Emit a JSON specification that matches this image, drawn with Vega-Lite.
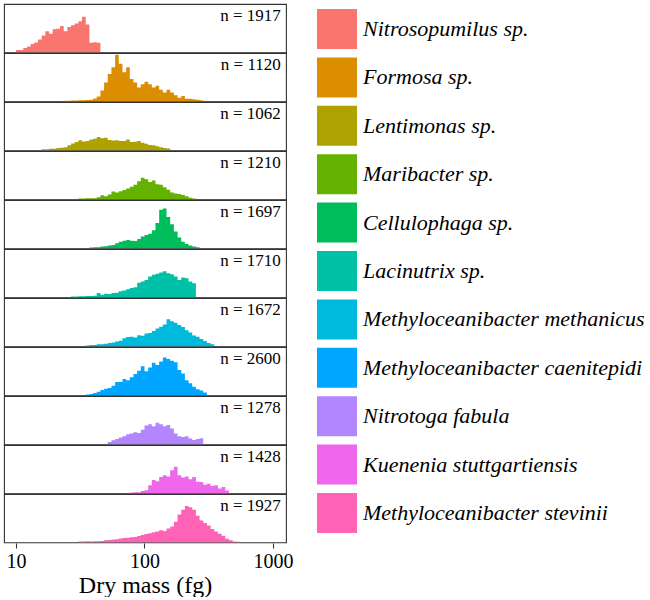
{
  "$schema": "https://vega.github.io/schema/vega-lite/v6.json",
  "padding": {"left": 3, "top": 3, "right": 0, "bottom": 0},
  "background": "white",
  "datasets": {
    "bins": [
      {"k":0,"lo":10},{"k":1,"lo":10.68},{"k":2,"lo":11.41},{"k":3,"lo":12.18},{"k":4,"lo":13.01},{"k":5,"lo":13.89},{"k":6,"lo":14.84},{"k":7,"lo":15.85},{"k":8,"lo":16.93},{"k":9,"lo":18.08},
      {"k":10,"lo":19.31},{"k":11,"lo":20.62},{"k":12,"lo":22.02},{"k":13,"lo":23.52},{"k":14,"lo":25.12},{"k":15,"lo":26.83},{"k":16,"lo":28.65},{"k":17,"lo":30.6},{"k":18,"lo":32.68},{"k":19,"lo":34.9},
      {"k":20,"lo":37.28},{"k":21,"lo":39.81},{"k":22,"lo":42.52},{"k":23,"lo":45.41},{"k":24,"lo":48.5},{"k":25,"lo":51.79},{"k":26,"lo":55.32},{"k":27,"lo":59.08},{"k":28,"lo":63.1},{"k":29,"lo":67.39},
      {"k":30,"lo":71.97},{"k":31,"lo":76.86},{"k":32,"lo":82.09},{"k":33,"lo":87.67},{"k":34,"lo":93.63},{"k":35,"lo":100},{"k":36,"lo":106.8},{"k":37,"lo":114.1},{"k":38,"lo":121.8},{"k":39,"lo":130.1},
      {"k":40,"lo":139},{"k":41,"lo":148.4},{"k":42,"lo":158.5},{"k":43,"lo":169.3},{"k":44,"lo":180.8},{"k":45,"lo":193.1},{"k":46,"lo":206.2},{"k":47,"lo":220.2},{"k":48,"lo":235.2},{"k":49,"lo":251.2},
      {"k":50,"lo":268.3},{"k":51,"lo":286.5},{"k":52,"lo":306},{"k":53,"lo":326.8},{"k":54,"lo":349},{"k":55,"lo":372.8},{"k":56,"lo":398.1},{"k":57,"lo":425.2},{"k":58,"lo":454.1},{"k":59,"lo":485},
      {"k":60,"lo":517.9},{"k":61,"lo":553.2},{"k":62,"lo":590.8},{"k":63,"lo":631},{"k":64,"lo":673.9},{"k":65,"lo":719.7},{"k":66,"lo":768.6},{"k":67,"lo":820.9},{"k":68,"lo":876.7},{"k":69,"lo":936.3},{"k":70,"lo":1000}
    ]
  },
  "data": {"values": [
    {"sp": "Nitrosopumilus sp.", "label": "n = 1917",
     "k": [0,1,2,3,4,5,6,7,8,9,10,11,12,13,14,15,16,17,18,19,20,21,22,23],
     "c": [10,10,18,24,34,41,53,70,87,77,95,98,109,87,105,112,119,129,147,115,40,42,40,0]},
    {"sp": "Formosa sp.", "label": "n = 1120",
     "k": [13,14,15,16,17,18,19,20,21,22,23,24,25,26,27,28,29,30,31,32,33,34,35,36,37,38,39,40,41,42,43,44,45,46,47,48,49,50,51],
     "c": [2,2,3,3,4,4,5,6,12,20,45,78,113,141,193,155,120,141,92,78,57,71,81,71,57,64,48,36,48,36,25,15,22,11,11,8,6,4,0]},
    {"sp": "Lentimonas sp.", "label": "n = 1062",
     "k": [7,8,9,10,11,12,13,14,15,16,17,18,19,20,21,22,23,24,25,26,27,28,29,30,31,32,33,34,35,36,37,38,39,40,41,42],
     "c": [4,4,6,6,10,11,13,21,28,34,42,36,38,45,48,55,50,52,43,41,42,38,39,45,34,35,39,31,27,22,21,17,13,10,7,0]},
    {"sp": "Maribacter sp.", "label": "n = 1210",
     "k": [17,18,19,20,21,22,23,24,25,26,27,28,29,30,31,32,33,34,35,36,37,38,39,40,41,42,43,44,45,46,47,48,49],
     "c": [3,3,4,4,4,8,17,13,20,32,28,33,38,45,52,60,75,89,83,72,78,62,60,50,40,28,24,22,18,13,6,3,0]},
    {"sp": "Cellulophaga sp.", "label": "n = 1697",
     "k": [20,21,22,23,24,25,26,27,28,29,30,31,32,33,34,35,36,37,38,39,40,41,42,43,44,45,46,47,48,49,50],
     "c": [3,4,4,7,8,12,14,21,27,31,34,31,30,38,49,55,60,75,105,160,165,130,100,70,45,27,18,12,7,4,0]},
    {"sp": "Lacinutrix sp.", "label": "n = 1710",
     "k": [15,16,17,18,19,20,21,22,23,24,25,26,27,28,29,30,31,32,33,34,35,36,37,38,39,40,41,42,43,44,45,46,47,48,49],
     "c": [3,3,4,4,5,5,6,18,11,15,14,18,19,25,28,33,39,42,60,65,72,86,93,97,103,108,100,95,86,72,82,79,65,58,0]},
    {"sp": "Methyloceanibacter methanicus", "label": "n = 1672",
     "k": [19,20,21,22,23,24,25,26,27,28,29,30,31,32,33,34,35,36,37,38,39,40,41,42,43,44,45,46,47,48,49,50,51,52,53,54],
     "c": [3,5,5,8,9,11,14,16,20,23,33,38,40,36,46,44,53,55,63,74,81,90,112,104,98,88,80,66,57,45,40,30,22,14,8,0]},
    {"sp": "Methyloceanibacter caenitepidi", "label": "n = 2600",
     "k": [19,20,21,22,23,24,25,26,27,28,29,30,31,32,33,34,35,36,37,38,39,40,41,42,43,44,45,46,47,48,49,50,51,52],
     "c": [3,5,10,15,22,27,30,40,55,55,68,62,75,88,102,120,100,115,135,125,140,157,150,143,137,105,90,62,50,35,25,20,12,0]},
    {"sp": "Nitrotoga fabula", "label": "n = 1278",
     "k": [25,26,27,28,29,30,31,32,33,34,35,36,37,38,39,40,41,42,43,44,45,46,47,48,49,50,51],
     "c": [10,17,22,28,33,42,45,50,47,60,78,83,75,89,83,75,80,65,45,33,30,33,24,18,22,25,0]},
    {"sp": "Kuenenia stuttgartiensis", "label": "n = 1428",
     "k": [31,32,33,34,35,36,37,38,39,40,41,42,43,44,45,46,47,48,49,50,51,52,53,54,55,56,57,58],
     "c": [3,4,4,10,13,33,55,50,68,75,70,95,110,75,65,70,58,68,48,47,35,40,30,33,20,26,12,0]},
    {"sp": "Methyloceanibacter stevinii", "label": "n = 1927",
     "k": [17,18,19,20,21,22,23,24,25,26,27,28,29,30,31,32,33,34,35,36,37,38,39,40,41,42,43,44,45,46,47,48,49,50,51,52,53,54,55,56,57,58,59,60,61],
     "c": [3,3,4,3,4,4,5,9,10,12,13,16,18,19,21,22,26,30,34,37,42,45,50,47,57,65,85,115,135,150,145,135,110,90,80,70,55,45,35,27,15,8,3,2,0]}
  ]},
  "transform": [
    {"flatten": ["k", "c"]},
    {"lookup": "k", "from": {"data": {"name": "bins"}, "key": "k", "fields": ["lo"]}}
  ],
  "facet": {
    "row": {
      "field": "sp", "type": "nominal",
      "sort": ["Nitrosopumilus sp.", "Formosa sp.", "Lentimonas sp.", "Maribacter sp.", "Cellulophaga sp.", "Lacinutrix sp.", "Methyloceanibacter methanicus", "Methyloceanibacter caenitepidi", "Nitrotoga fabula", "Kuenenia stuttgartiensis", "Methyloceanibacter stevinii"],
      "header": null
    }
  },
  "spacing": {"row": 0},
  "bounds": "flush",
  "spec": {
    "width": 282,
    "height": 48.3,
    "layer": [
      {
        "mark": {"type": "area", "interpolate": "step-after", "opacity": 1},
        "encoding": {
          "x": {
            "field": "lo", "type": "quantitative",
            "scale": {"type": "log", "domain": [8.07, 1262], "nice": false},
            "axis": {
              "values": [10, 100, 1000], "format": "d", "grid": false, "domain": false,
              "tickSize": 5, "tickColor": "#333333", "tickWidth": 1.1,
              "labelFont": "Liberation Serif, Times New Roman, serif", "labelFontSize": 20, "labelColor": "black", "labelPadding": 3, "labelFlush": false,
              "title": "Dry mass (fg)", "titleFont": "Liberation Serif, Times New Roman, serif", "titleFontSize": 24, "titleFontWeight": "normal", "titleColor": "black", "titlePadding": 2
            }
          },
          "y": {"field": "c", "type": "quantitative", "stack": null, "scale": {"domain": [0, 200], "nice": false}, "axis": null},
          "color": {
            "field": "sp", "type": "nominal",
            "scale": {
              "domain": ["Nitrosopumilus sp.", "Formosa sp.", "Lentimonas sp.", "Maribacter sp.", "Cellulophaga sp.", "Lacinutrix sp.", "Methyloceanibacter methanicus", "Methyloceanibacter caenitepidi", "Nitrotoga fabula", "Kuenenia stuttgartiensis", "Methyloceanibacter stevinii"],
              "range": ["#F8766D", "#DB8E00", "#AEA200", "#64B200", "#00BD5C", "#00C1A7", "#00BADE", "#00A6FF", "#B385FF", "#EF67EB", "#FF63B6"]
            },
            "legend": {
              "title": null, "symbolType": "square", "symbolSize": 1600, "symbolStrokeWidth": 0, "symbolOpacity": 1,
              "labelFont": "Liberation Serif, Times New Roman, serif", "labelFontSize": 22, "labelFontStyle": "italic", "labelColor": "black",
              "labelLimit": 400, "labelOffset": 6, "rowPadding": 8.4, "offset": 18, "padding": 5
            }
          }
        }
      },
      {
        "transform": [{"filter": "datum.c == 0"}],
        "mark": {"type": "text", "align": "right", "baseline": "top", "dy": 4, "font": "Liberation Serif, Times New Roman, serif", "fontSize": 17, "color": "black"},
        "encoding": {
          "x": {"datum": 1150},
          "y": {"datum": 200},
          "text": {"field": "label", "type": "nominal"}
        }
      }
    ]
  },
  "config": {
    "view": {"stroke": "#333333", "strokeWidth": 1.1},
    "font": "Liberation Serif, Times New Roman, serif"
  }
}
